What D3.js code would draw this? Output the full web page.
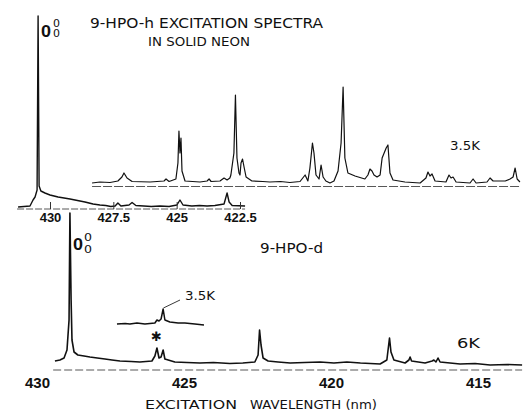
<!DOCTYPE html>
<html><head><meta charset="utf-8">
<script src="https://cdn.jsdelivr.net/npm/d3@7"></script>
<style>body{margin:0;background:#fff}svg{display:block}</style>
</head><body>
<svg id="c" width="525" height="413"></svg>
<script>
// ---- data (wavelength nm, relative intensity) ----
// 9-HPO-h survey trace (lower trace of top panel)
const hSurvey = [[431.26,0],[430.79,1],[430.67,7],[430.59,10],[430.51,17],[430.47,191],[430.43,21],[430.36,16],[430.20,14],[430.00,12],[429.68,10],[429.21,8],[428.62,5],[428.30,3],[428.03,2],[427.80,1.5],[427.60,0.5],[427.43,1],[427.32,4],[427.20,1],[426.88,2],[426.76,4.5],[426.61,1.5],[426.30,1],[426.00,0.5],[425.66,1],[425.30,0.5],[424.99,2],[424.87,7],[424.75,2],[424.40,1],[424.10,1.5],[423.80,1],[423.49,1.5],[423.13,3],[423.01,14],[422.93,5],[422.81,1.5],[422.30,1]];
// 9-HPO-h 3.5 K expanded trace (upper trace of top panel)
const h35K = [[428.34,0],[428.03,1],[427.63,0.5],[427.32,2],[427.16,6],[427.08,10],[426.96,5],[426.76,1.5],[426.05,1],[425.50,2],[425.42,4],[425.30,1.5],[425.03,4],[424.95,20],[424.91,52],[424.87,30],[424.83,45],[424.79,12],[424.67,2],[424.08,1],[423.80,2],[423.72,4],[423.64,1.5],[423.29,2],[423.13,5],[423.01,3],[422.90,5],[422.86,8],[422.74,30],[422.68,88],[422.62,25],[422.54,10],[422.50,8],[422.46,20],[422.40,24],[422.34,16],[422.26,6],[422.03,2],[421.60,1.5],[421.32,1],[420.90,1.5],[420.53,0.5],[420.13,1.5],[419.93,8],[419.82,2],[419.74,15],[419.64,40],[419.58,30],[419.50,8],[419.38,4],[419.30,18],[419.22,6],[419.11,2],[418.95,0],[418.79,2],[418.63,12],[418.51,40],[418.43,96],[418.36,25],[418.24,10],[417.96,7],[417.57,4],[417.45,8],[417.37,14],[417.29,12],[417.21,8],[417.09,6],[416.97,8],[416.89,25],[416.81,30],[416.73,35],[416.66,38],[416.58,10],[416.46,3],[415.99,1],[415.39,0],[415.16,5],[415.08,11],[415.00,7],[414.92,9],[414.80,2],[414.37,1],[414.25,8],[414.17,5],[414.09,6],[413.97,1],[413.42,0],[413.30,4],[413.18,0],[412.75,1],[412.63,5],[412.51,2],[412.03,2],[411.84,4],[411.72,6],[411.64,15],[411.56,4],[411.45,1]];
// 9-HPO-d 6 K trace (bottom panel)
const d6K = [[429.39,3],[429.22,4],[429.08,6],[428.98,14],[428.91,44],[428.88,151],[428.84,64],[428.81,24],[428.74,12],[428.61,9],[428.40,8],[428.20,7],[427.95,6],[427.69,5],[427.45,4],[427.18,3],[426.80,2.5],[426.50,2],[426.09,3],[425.99,8],[425.92,16],[425.85,6],[425.78,7],[425.71,14],[425.65,5],[425.31,2],[424.90,1.5],[424.46,1],[424.00,1.5],[423.44,0.5],[423.00,1],[422.59,2],[422.48,9],[422.43,34],[422.38,19],[422.31,6],[422.14,3],[421.80,2],[421.39,1],[420.90,1.5],[420.37,2],[419.90,1],[419.46,2],[419.00,1],[418.33,0],[418.10,4],[418.01,26],[417.96,12],[417.86,4],[417.48,1],[417.35,4],[417.31,7],[417.26,3],[416.80,1],[416.56,3],[416.50,4],[416.43,2],[416.36,6],[416.29,2],[415.61,0],[415.10,0.5],[414.59,-1],[414.00,-0.5],[413.50,-1]];
// 9-HPO-d 3.5 K inset trace
const d35K = [[427.28,0],[427.00,0.5],[426.84,0],[426.60,1],[426.33,0],[425.99,1],[425.92,4],[425.85,3],[425.78,5],[425.71,15],[425.65,4],[425.48,2],[425.20,1],[424.97,1],[424.63,0],[424.32,-1]];
// tick labels
const topTicks = [430, 427.5, 425, 422.5];
const botTicks = [430, 425, 420, 415];

// ---- scales ----
const svg = d3.select('#c');
const xT = d3.scaleLinear().domain([430, 422.5]).range([50, 240]);
const xB = d3.scaleLinear().domain([430, 415]).range([37, 478]);
const yTopLow = d3.scaleLinear().domain([0, 100]).range([207, 107]);
const yTopHigh = d3.scaleLinear().domain([0, 100]).range([183, 83]);
const yBot = d3.scaleLinear().domain([0, 100]).range([364, 264]);
const yInset = d3.scaleLinear().domain([0, 100]).range([324, 224]);

function trace(data, x, y, w) {
  svg.append('path').datum(data)
    .attr('fill', 'none').attr('stroke', '#111').attr('stroke-width', w)
    .attr('stroke-linejoin', 'round')
    .attr('d', d3.line().x(d => x(d[0])).y(d => y(d[1])));
}
function refLine(x, ext, yv, dash) {
  svg.append('line').attr('x1', x(ext[0])).attr('x2', x(ext[1]))
    .attr('y1', yv).attr('y2', yv).attr('stroke', '#444').attr('stroke-width', 0.9)
    .attr('stroke-dasharray', dash);
}

// baselines
refLine(xT, [431.3, 422.3], 209, '7,2');
refLine(xT, [428.34, 411.45], 186.5, '9,2');
refLine(xB, [429.45, 413.5], 370, '8,3');

// traces
trace(hSurvey, xT, yTopLow, 1.4);
trace(h35K, xT, yTopHigh, 1.2);
trace(d6K, xB, yBot, 1.6);
trace(d35K, xB, yInset, 1.5);

// top axis
const gT = svg.append('g').attr('transform', 'translate(0,209)')
  .call(d3.axisBottom(xT).tickValues(topTicks).tickSizeInner(-7).tickSizeOuter(0).tickPadding(4)
    .tickFormat(d => String(d)));
gT.select('.domain').remove();
gT.selectAll('line').attr('stroke', '#333');
gT.selectAll('text').attr('font-family', 'Liberation Sans, Arial, sans-serif')
  .attr('font-weight', 'bold').attr('font-size', 13).attr('fill', '#111');

// bottom axis
const gB = svg.append('g').attr('transform', 'translate(0,370)')
  .call(d3.axisBottom(xB).tickValues(botTicks).tickSize(0).tickPadding(7)
    .tickFormat(d => String(d)));
gB.select('.domain').remove();
gB.selectAll('text').attr('font-family', 'Liberation Sans, Arial, sans-serif')
  .attr('font-weight', 'bold').attr('font-size', 15).attr('fill', '#111');

// texts
function txt(s, x, y, size, len, opts) {
  const t = svg.append('text').attr('x', x).attr('y', y).text(s)
    .attr('font-family', (opts && opts.ff) || 'DejaVu Sans, sans-serif')
    .attr('font-size', size).attr('fill', '#111');
  if (len) t.attr('textLength', len).attr('lengthAdjust', 'spacingAndGlyphs');
  if (opts && opts.bold) t.attr('font-weight', 'bold');
  return t;
}
txt('9-HPO-h EXCITATION SPECTRA', 90, 28, 14, 233);
txt('IN SOLID NEON', 148, 46, 13, 102);
txt('3.5K', 450, 150, 13, 30);
txt('9-HPO-d', 260, 253, 14, 63);
txt('6K', 457, 348, 14, 23);
txt('3.5K', 185, 300, 13, 30);
txt('EXCITATION', 145, 409, 13, 92);
txt('WAVELENGTH (nm)', 250, 409, 13, 127);

// 0-0 labels
txt('0', 41, 37, 16, 10, {ff: 'Liberation Sans, Arial, sans-serif', bold: true});
txt('0', 53, 27, 10, 7);
txt('0', 53, 37, 10, 7);
txt('0', 73, 250, 16, 10, {ff: 'Liberation Sans, Arial, sans-serif', bold: true});
txt('0', 84, 241, 10, 8);
txt('0', 84, 252.5, 10, 8);

// asterisk
svg.append('text').attr('x', xB(425.94)).attr('y', 341).attr('text-anchor', 'middle')
  .attr('font-family', 'DejaVu Sans, sans-serif').attr('font-size', 13).attr('fill', '#111').text('\u2731');

// arrow for inset label
svg.append('line').attr('x1', 180).attr('y1', 300).attr('x2', xB(425.70)).attr('y2', 308)
  .attr('stroke', '#222').attr('stroke-width', 0.9);
</script>
</body></html>
